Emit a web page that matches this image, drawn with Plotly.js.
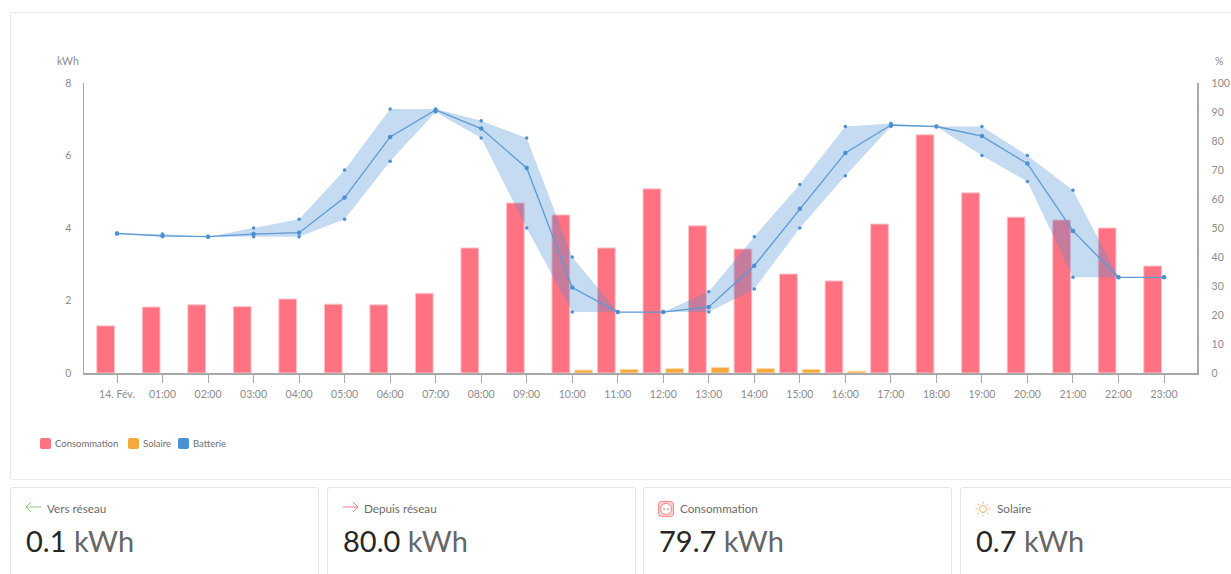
<!DOCTYPE html>
<html lang="fr">
<head>
<meta charset="utf-8">
<script src="https://cdn.plot.ly/plotly-3.0.1.min.js"></script>
<style>
html,body{margin:0;padding:0;background:#fff;width:1231px;height:574px;overflow:hidden;font-family:Lato,"Open Sans",sans-serif}
#frame{position:absolute;left:10px;top:12px;width:1240px;height:468px;border:1px solid #e9e9e9;border-radius:3px;box-sizing:border-box}
#chart{position:absolute;left:0;top:0;width:1231px;height:574px}
#legend{position:absolute;left:40px;top:437px;height:13px}
.li{position:absolute;top:0;white-space:nowrap;font-size:9.5px;line-height:13px;color:#6f6f6f}
.sw{position:absolute;left:0;top:1px;width:11px;height:11px;border-radius:2px}
.li span{position:absolute;left:15px;top:0}
.card{position:absolute;top:487px;height:110px;border:1px solid #e6e6e6;border-radius:3px;box-sizing:border-box;background:#fff}
.card svg{position:absolute;left:14px;top:12px}
.lab{position:absolute;left:36px;top:13px;font-size:11.7px;line-height:14px;color:#6b6b6b;white-space:nowrap}
.val{position:absolute;left:15px;top:35px;font-size:29px;line-height:36px;color:#262626;white-space:nowrap}
.val i{font-style:normal;color:#666}
</style>
</head>
<body>
<div id="frame"></div>
<div id="chart"></div>
<div id="legend"></div>
<div id="cards"></div>
<script>
const hours = ["14. Fév.","01:00","02:00","03:00","04:00","05:00","06:00","07:00","08:00","09:00","10:00","11:00","12:00","13:00","14:00","15:00","16:00","17:00","18:00","19:00","20:00","21:00","22:00","23:00"];
const consommation = [1.30,1.82,1.88,1.83,2.04,1.90,1.88,2.20,3.45,4.69,4.36,3.45,5.08,4.06,3.42,2.73,2.54,4.11,6.57,4.97,4.30,4.22,4.00,2.95];
const solaire = [0,0,0,0,0,0,0,0,0,0,0.08,0.10,0.12,0.15,0.12,0.10,0.05,0,0,0,0,0,0,0];
const batterieMoy = [48.1,47.3,47,47.9,48.4,60.5,81.4,90.7,84.3,70.7,29.5,21,21,22.8,37,56.6,75.9,85.5,85,81.7,72.2,49,33,33];
const batterieMax = [48.1,47.9,47,50,53,70,91,91,87,81,40,21,21,28,47,65,85,86,85,85,75,63,33,33];
const batterieMin = [48.1,47,47,47,47,53,73,90,81,50,21,21,21,21,29,50,68,85,85,75,66,33,33,33];
const legendNames = ["Consommation","Solaire","Batterie"];
const legendOffsets = [0,88,138];
const colors = {conso:"#ff7282",consoEdge:"#ffc4cb",solar:"#f5a83c",solarEdge:"#fbd9a5",batt:"#4a90d2",band:"rgba(74,144,210,0.32)"};
const legendColors = [colors.conso,colors.solar,colors.batt];
const cardNames = ["Vers réseau","Depuis réseau","Consommation","Solaire"];
const cardValues = ["0.1","80.0","79.7","0.7"];
const cardLefts = [10,327,643,960];
const cardWidths = [309,309,309,300];

const traces = [
 {type:"bar",name:"Consommation",x:hours,y:consommation,marker:{color:colors.conso,line:{color:colors.consoEdge,width:1}},hoverinfo:"x+y"},
 {type:"bar",name:"Solaire",x:hours,y:solaire,marker:{color:colors.solar,line:{color:colors.solarEdge,width:solaire.map(v=>v>0?1:0)}},hoverinfo:"x+y"},
 {type:"scatter",mode:"lines+markers",name:"Batterie min",x:hours,y:batterieMin,yaxis:"y2",marker:{color:colors.batt,size:3.5},line:{width:0,color:"rgba(0,0,0,0)"}},
 {type:"scatter",mode:"lines+markers",name:"Batterie max",x:hours,y:batterieMax,yaxis:"y2",fill:"tonexty",fillcolor:colors.band,marker:{color:colors.batt,size:3.5},line:{width:0,color:"rgba(0,0,0,0)"}},
 {type:"scatter",mode:"lines+markers",name:"Batterie",x:hours,y:batterieMoy,yaxis:"y2",line:{color:"#5a9ad6",width:1.3},marker:{color:colors.batt,size:4.5}}
];
const tickFont = {family:"Lato, 'Open Sans', sans-serif",size:10.5,color:"#8c8c8c"};
const axisColor = "#a8a8a8";
const layout = {
 width:1231,height:574,autosize:false,showlegend:false,
 paper_bgcolor:"rgba(0,0,0,0)",plot_bgcolor:"rgba(0,0,0,0)",
 margin:{l:84,r:34,t:83,b:201,pad:0},
 barmode:"group",bargap:0,bargroupgap:0.22,
 font:tickFont,
 xaxis:{type:"category",categoryorder:"array",categoryarray:hours,tickmode:"array",tickvals:hours,ticktext:hours,tickangle:0,range:[-0.725,23.725],showgrid:false,zeroline:false,showline:true,linecolor:axisColor,linewidth:1.5,ticks:"outside",ticklen:8,tickwidth:1,tickcolor:axisColor,tickfont:tickFont,ticklabelstandoff:3},
 yaxis:{range:[0,8],dtick:2,showgrid:false,zeroline:false,showline:true,linecolor:axisColor,linewidth:1.5,ticks:"",tickfont:tickFont,ticklabelstandoff:9},
 yaxis2:{overlaying:"y",side:"right",range:[0,100],dtick:10,showgrid:false,zeroline:false,showline:true,linecolor:axisColor,linewidth:1.5,ticks:"",tickfont:tickFont,ticklabelstandoff:11},
 annotations:[
  {xref:"paper",yref:"paper",x:-0.0144,y:1.076,xanchor:"center",yanchor:"middle",text:"kWh",showarrow:false,font:tickFont},
  {xref:"paper",yref:"paper",x:1.0197,y:1.076,xanchor:"center",yanchor:"middle",text:"%",showarrow:false,font:tickFont}
 ]
};
Plotly.newPlot("chart",traces,layout,{displayModeBar:false,staticPlot:true});

document.getElementById("legend").innerHTML = legendNames.map((n,i)=>
 `<div class="li" style="left:${legendOffsets[i]}px"><div class="sw" style="background:${legendColors[i]}"></div><span>${n}</span></div>`).join("");

const icons = [
 `<svg width="18" height="14" viewBox="0 0 18 14" fill="none" stroke="#8ecb7a" stroke-width="1"><path d="M16 7H1M6 2L1 7L6 12"/></svg>`,
 `<svg width="18" height="14" viewBox="0 0 18 14" fill="none" stroke="#f57f85" stroke-width="1"><path d="M1 7H16M11 2L16 7L11 12"/></svg>`,
 `<svg width="16" height="16" viewBox="0 0 16 16" style="left:14px;top:13px" fill="none" stroke="#f48a8a"><rect x="0.5" y="0.5" width="15" height="15" rx="3" fill="#fcd0d0"/><circle cx="8" cy="8" r="5.5" fill="#fff"/><circle cx="6" cy="8" r="0.9" fill="#f48a8a" stroke="none"/><circle cx="10" cy="8" r="0.9" fill="#f48a8a" stroke="none"/></svg>`,
 `<svg width="16" height="16" viewBox="0 0 16 16" style="left:14px;top:13px" fill="none" stroke="#f6ad6a"><circle cx="8" cy="8" r="3.5"/><path d="M8 0.5V2.5M8 13.5V15.5M0.5 8H2.5M13.5 8H15.5M2.7 2.7L4 4M12 12L13.3 13.3M2.7 13.3L4 12M12 4L13.3 2.7"/></svg>`
];
document.getElementById("cards").innerHTML = cardNames.map((n,i)=>
 `<div class="card" style="left:${cardLefts[i]}px;width:${cardWidths[i]}px">${icons[i]}<div class="lab">${n}</div><div class="val">${cardValues[i]} <i>kWh</i></div></div>`).join("");
</script>
</body>
</html>
